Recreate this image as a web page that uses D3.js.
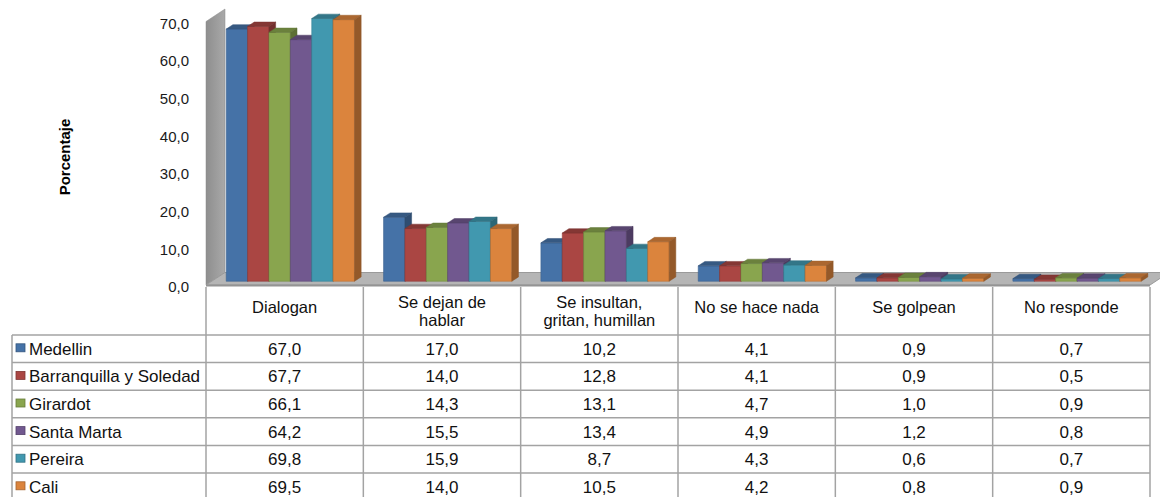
<!DOCTYPE html>
<html>
<head>
<meta charset="utf-8">
<script src="https://cdn.jsdelivr.net/npm/d3@7"></script>
<style>
  body { margin: 0; background: #fff; }
  svg { display: block; font-family: "Liberation Sans", Arial, sans-serif; }
</style>
</head>
<body>
<div id="container"></div>
<script>
// categories (header lines) and one array per city
const categories = [
    ["Dialogan"],
    ["Se dejan de", "hablar"],
    ["Se insultan,", "gritan, humillan"],
    ["No se hace nada"],
    ["Se golpean"],
    ["No responde"]
];
const cities = ["Medellin", "Barranquilla y Soledad", "Girardot", "Santa Marta", "Pereira", "Cali"];
const medellin     = [67.0, 17.0, 10.2, 4.1, 0.9, 0.7];
const barranquilla = [67.7, 14.0, 12.8, 4.1, 0.9, 0.5];
const girardot     = [66.1, 14.3, 13.1, 4.7, 1.0, 0.9];
const santaMarta   = [64.2, 15.5, 13.4, 4.9, 1.2, 0.8];
const pereira      = [69.8, 15.9, 8.7, 4.3, 0.6, 0.7];
const cali         = [69.5, 14.0, 10.5, 4.2, 0.8, 0.9];
const yTicks = [0, 10, 20, 30, 40, 50, 60, 70];

const series = [medellin, barranquilla, girardot, santaMarta, pereira, cali];
const colors = ["#4572a7", "#aa4643", "#89a54e", "#71588f", "#4198af", "#db843d"];

const W = 1160, H = 497;
const fmt = d3.formatLocale({decimal: ",", thousands: ".", grouping: [3], currency: ["", ""]}).format(".1f");

const plotL = 206, plotR = 1150;
const Dx = 19, Dy = 12.5;      // depth of the 3d box
const z0 = 0.3, z1 = 0.65;     // bar depth inside the box
const catKeys = categories.map(c => c.join(" "));

const x = d3.scaleBand().domain(catKeys).range([plotL, plotR]);
const xs = d3.scaleBand().domain(cities).range([0, x.bandwidth()]).paddingOuter(0.68);
const y = d3.scaleLinear().domain([0, 70]).range([285, 21.5]);

const svg = d3.select("#container").append("svg")
    .attr("width", W)
    .attr("height", H);

const defs = svg.append("defs");
const wg = defs.append("linearGradient").attr("id", "wallGrad")
    .attr("x1", 0).attr("x2", 1).attr("y1", 0).attr("y2", 0);
wg.append("stop").attr("offset", "0%").attr("stop-color", "#8e8e8e");
wg.append("stop").attr("offset", "100%").attr("stop-color", "#a9a9a9");

const poly = pts => "M" + pts.map(p => p.join(",")).join("L") + "Z";

// back/side wall
svg.append("path")
    .attr("d", poly([[plotL, y(0)], [plotL, y(70)], [plotL + Dx, y(70) - Dy], [plotL + Dx, y(0) - Dy]]))
    .attr("fill", "url(#wallGrad)")
    .attr("stroke", "#8a8a8a")
    .attr("stroke-width", 0.5);

// floor
svg.append("path")
    .attr("d", poly([[plotL, y(0)], [plotR, y(0)], [plotR + Dx, y(0) - Dy], [plotL + Dx, y(0) - Dy]]))
    .attr("fill", "#b5b5b5")
    .attr("stroke", "#9a9a9a")
    .attr("stroke-width", 1);
svg.append("rect")
    .attr("x", plotL).attr("y", y(0) - 0.5)
    .attr("width", plotR - plotL).attr("height", 2)
    .attr("fill", "#949494");

// y axis labels
const yAxis = d3.axisLeft(y).tickValues(yTicks).tickFormat(fmt).tickSize(0).tickPadding(0);
const gy = svg.append("g").attr("transform", "translate(189,2)").call(yAxis);
gy.select(".domain").remove();
gy.selectAll("text")
    .attr("font-family", "Liberation Sans, Arial, sans-serif")
    .attr("font-size", 15)
    .attr("fill", "#1a1a1a");

svg.append("text")
    .attr("transform", "translate(70," + 157 + ") rotate(-90)")
    .attr("text-anchor", "middle")
    .attr("font-size", 15)
    .attr("font-weight", "bold")
    .attr("fill", "#000")
    .text("Porcentaje");

// 3d bars
const ddx = (z1 - z0) * Dx, ddy = (z1 - z0) * Dy;
const bars = svg.append("g");
catKeys.forEach((cat, ci) => {
    cities.forEach((city, si) => {
        const v = series[si][ci];
        const c = d3.color(colors[si]);
        const w = xs.bandwidth();
        const x0 = x(cat) + xs(city) + z0 * Dx;
        const yb = y(0) - z0 * Dy;
        const yt = y(v) - z0 * Dy;
        const g = bars.append("g");
        g.append("path")
            .attr("d", poly([[x0, yb], [x0, yt], [x0 + w, yt], [x0 + w, yb]]))
            .attr("fill", c.formatHex())
            .attr("stroke", c.darker(0.4).formatHex())
            .attr("stroke-width", 0.6);
        g.append("path")
            .attr("d", poly([[x0, yt], [x0 + w, yt], [x0 + w + ddx, yt - ddy], [x0 + ddx, yt - ddy]]))
            .attr("fill", c.darker(0.7).formatHex())
            .attr("stroke", c.darker(0.9).formatHex())
            .attr("stroke-width", 0.5);
        g.append("path")
            .attr("d", poly([[x0 + w, yt], [x0 + w + ddx, yt - ddy], [x0 + w + ddx, yb - ddy], [x0 + w, yb]]))
            .attr("fill", c.darker(1.1).formatHex())
            .attr("stroke", c.darker(1.2).formatHex())
            .attr("stroke-width", 0.5);
    });
});

// data table
const headTop = 287, rowTop = 335, rowH = 27.6;
const tableL = 12;
const rows = d3.scaleBand().domain(cities).range([rowTop, rowTop + rowH * cities.length]);
const lineCol = "#a3a3a3";
const table = svg.append("g");

// vertical lines
const vx = catKeys.map(k => x(k)).concat([plotR]);
table.selectAll(".vl").data(vx).enter().append("line")
    .attr("x1", d => d).attr("x2", d => d)
    .attr("y1", headTop).attr("y2", H + 5)
    .attr("stroke", lineCol).attr("stroke-width", 1.5);
table.append("line")
    .attr("x1", tableL).attr("x2", tableL)
    .attr("y1", rowTop).attr("y2", H + 5)
    .attr("stroke", lineCol).attr("stroke-width", 1.5);
// horizontal lines
table.selectAll(".hl").data(cities).enter().append("line")
    .attr("x1", tableL).attr("x2", plotR)
    .attr("y1", d => rows(d)).attr("y2", d => rows(d))
    .attr("stroke", lineCol).attr("stroke-width", 1.5);

// header
categories.forEach((lines, ci) => {
    const cx = x(catKeys[ci]) + x.bandwidth() / 2;
    const t = table.append("text")
        .attr("text-anchor", "middle")
        .attr("font-size", 16.5)
        .attr("fill", "#111");
    lines.forEach((l, li) => {
        t.append("tspan")
            .attr("x", cx)
            .attr("y", 313 - (lines.length - 1) * 5 + li * 18)
            .text(l);
    });
});

// rows
cities.forEach((city, si) => {
    const ry = rows(city) + rowH / 2;
    table.append("rect")
        .attr("x", 16).attr("y", ry - 5)
        .attr("width", 9).attr("height", 8)
        .attr("fill", colors[si])
        .attr("stroke", d3.color(colors[si]).darker(0.8).formatHex())
        .attr("stroke-width", 0.8);
    table.append("text")
        .attr("x", 29).attr("y", ry + 6)
        .attr("font-size", 17)
        .attr("fill", "#111")
        .text(city);
    catKeys.forEach((cat, ci) => {
        table.append("text")
            .attr("x", x(cat) + x.bandwidth() / 2)
            .attr("y", ry + 6)
            .attr("text-anchor", "middle")
            .attr("font-size", 17)
            .attr("fill", "#111")
            .text(fmt(series[si][ci]));
    });
});
</script>
</body>
</html>
